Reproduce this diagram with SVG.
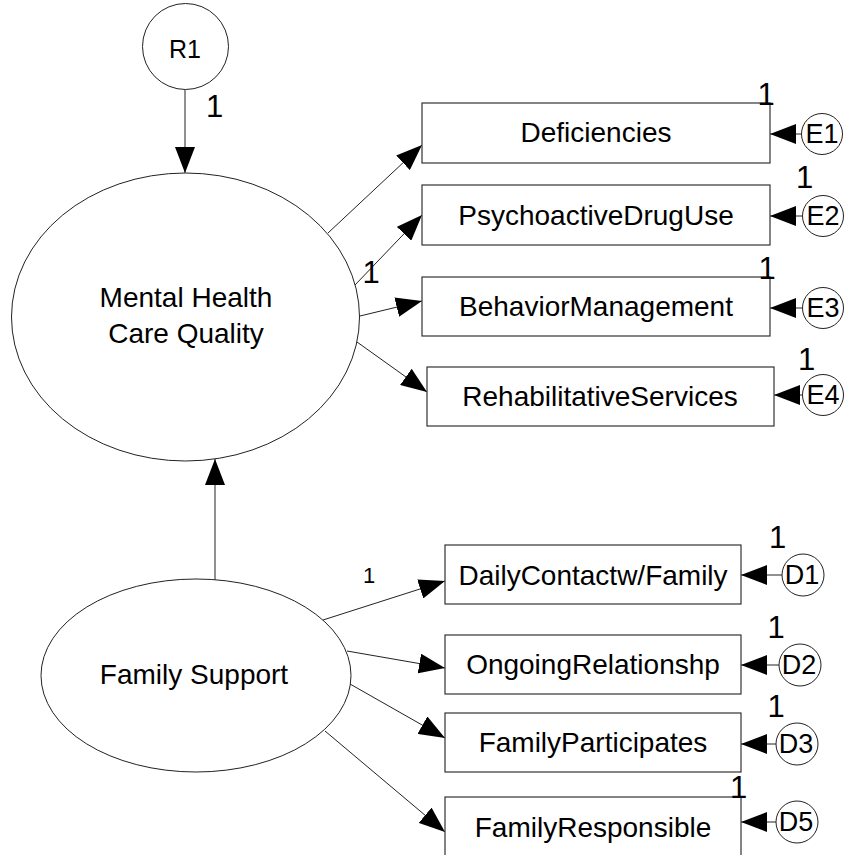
<svg xmlns="http://www.w3.org/2000/svg" width="845" height="855" viewBox="0 0 845 855">
<style>
  .shape { fill: #fff; stroke: #222; stroke-width: 1; }
  .box { fill: #fff; stroke: #333; stroke-width: 1.2; }
  .lbl { font-family: "Liberation Sans", Arial, sans-serif; font-size: 28px; fill: #000; text-anchor: middle; }
  .ed { font-family: "Liberation Sans", Arial, sans-serif; font-size: 27px; fill: #000; text-anchor: middle; }
  .small { font-family: "Liberation Sans", Arial, sans-serif; font-size: 22px; fill: #000; text-anchor: middle; }
  .r1 { font-family: "Liberation Sans", Arial, sans-serif; font-size: 25px; fill: #000; text-anchor: middle; }
  .one { font-family: "Liberation Sans", Arial, sans-serif; font-size: 31px; fill: #000; text-anchor: middle; }
  .conn line { stroke: #222; stroke-width: 1; marker-end: url(#ah); }
</style>
<defs>
  <marker id="ah" markerUnits="userSpaceOnUse" markerWidth="26" markerHeight="20" refX="26" refY="10" orient="auto">
    <path d="M0,0 L26,10 L0,20 z" fill="#000"/>
  </marker>
</defs>
<rect width="845" height="855" fill="#fff"/>

<g id="connectors" class="conn">
  <line x1="185" y1="90" x2="185" y2="173"/>
  <line x1="215" y1="580" x2="215" y2="459"/>
  <line x1="328" y1="233" x2="422" y2="145"/>
  <line x1="355" y1="285" x2="422" y2="215"/>
  <line x1="360" y1="316" x2="422" y2="301"/>
  <line x1="357" y1="342" x2="427" y2="392"/>
  <line x1="323" y1="620" x2="445" y2="581"/>
  <line x1="347" y1="651" x2="445" y2="668"/>
  <line x1="350" y1="684" x2="445" y2="738"/>
  <line x1="325" y1="731" x2="445" y2="832"/>
  <line x1="802" y1="134" x2="770" y2="134"/>
  <line x1="803" y1="216" x2="770" y2="216"/>
  <line x1="803" y1="308" x2="770" y2="308"/>
  <line x1="803" y1="395" x2="774" y2="395"/>
  <line x1="782" y1="575" x2="741" y2="575"/>
  <line x1="779" y1="665" x2="741" y2="665"/>
  <line x1="776" y1="744" x2="741" y2="744"/>
  <line x1="776" y1="822" x2="741" y2="822"/>
</g>

<g id="R1">
  <circle class="shape" cx="185.5" cy="46.5" r="43"/>
  <text class="r1" x="185" y="58">R1</text>
</g>
<g id="MentalHealth">
  <ellipse class="shape" cx="185.5" cy="317" rx="174" ry="144"/>
  <text class="lbl" x="186" y="307">Mental Health</text>
  <text class="lbl" x="186" y="343">Care Quality</text>
</g>
<g id="FamilySupport">
  <ellipse class="shape" cx="196" cy="675.5" rx="155" ry="96.5"/>
  <text class="lbl" x="194" y="684">Family Support</text>
</g>

<g id="Deficiencies">
  <rect class="box" x="422" y="103" width="348" height="60"/>
  <text class="lbl" x="596" y="142">Deficiencies</text>
</g>
<g id="PsychoactiveDrugUse">
  <rect class="box" x="422" y="185" width="348" height="60"/>
  <text class="lbl" x="596" y="225">PsychoactiveDrugUse</text>
</g>
<g id="BehaviorManagement">
  <rect class="box" x="422" y="277" width="348" height="59"/>
  <text class="lbl" x="596" y="316">BehaviorManagement</text>
</g>
<g id="RehabilitativeServices">
  <rect class="box" x="427" y="367" width="347" height="59"/>
  <text class="lbl" x="600" y="406">RehabilitativeServices</text>
</g>
<g id="DailyContact">
  <rect class="box" x="445" y="545" width="296" height="59"/>
  <text class="lbl" x="593" y="585">DailyContactw/Family</text>
</g>
<g id="OngoingRelationshp">
  <rect class="box" x="445" y="635" width="296" height="59"/>
  <text class="lbl" x="593" y="674">OngoingRelationshp</text>
</g>
<g id="FamilyParticipates">
  <rect class="box" x="445" y="713" width="296" height="59"/>
  <text class="lbl" x="593" y="752">FamilyParticipates</text>
</g>
<g id="FamilyResponsible">
  <rect class="box" x="445" y="797" width="296" height="60"/>
  <text class="lbl" x="593" y="837">FamilyResponsible</text>
</g>

<g id="E1"><circle class="shape" cx="822" cy="134" r="20.5"/><text class="ed" x="822" y="143">E1</text></g>
<g id="E2"><circle class="shape" cx="823" cy="216" r="20.5"/><text class="ed" x="823" y="225">E2</text></g>
<g id="E3"><circle class="shape" cx="823" cy="308" r="20.5"/><text class="ed" x="823" y="317">E3</text></g>
<g id="E4"><circle class="shape" cx="823" cy="395" r="20.5"/><text class="ed" x="823" y="404">E4</text></g>
<g id="D1"><circle class="shape" cx="803" cy="575" r="21"/><text class="ed" x="802" y="584">D1</text></g>
<g id="D2"><circle class="shape" cx="800" cy="665" r="21"/><text class="ed" x="799" y="674">D2</text></g>
<g id="D3"><circle class="shape" cx="797" cy="744" r="21"/><text class="ed" x="796" y="753">D3</text></g>
<g id="D5"><circle class="shape" cx="797" cy="822" r="21"/><text class="ed" x="796" y="831">D5</text></g>

<g id="labels">
  <text class="one" x="214.5" y="117">1</text>
  <text class="one" x="766" y="105">1</text>
  <text class="one" x="804.5" y="188">1</text>
  <text class="one" x="371" y="283">1</text>
  <text class="one" x="767" y="279">1</text>
  <text class="one" x="806.5" y="370">1</text>
  <text class="small" x="369" y="583">1</text>
  <text class="one" x="777.5" y="548">1</text>
  <text class="one" x="776" y="638">1</text>
  <text class="one" x="776" y="717">1</text>
  <text class="one" x="738.5" y="798">1</text>
</g>
</svg>
